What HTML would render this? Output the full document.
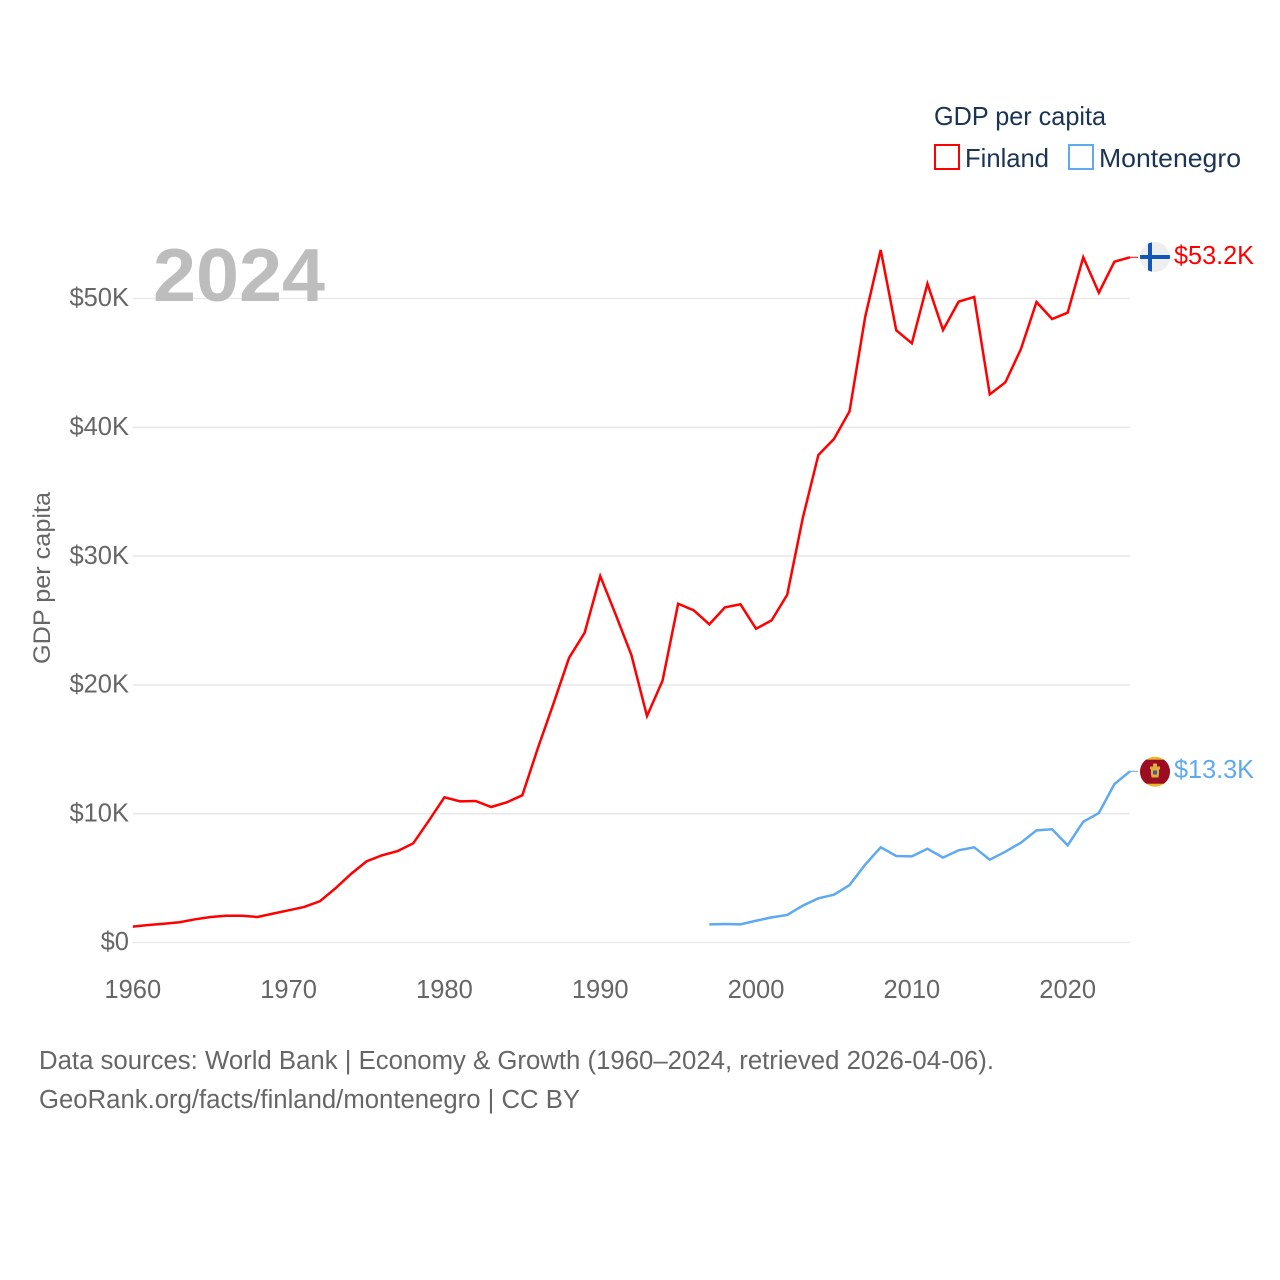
<!DOCTYPE html>
<html lang="en">
<head>
<meta charset="utf-8">
<title>GDP per capita: Finland and Montenegro</title>
<style>
html,body{margin:0;padding:0;background:#fff;}
svg{display:block;font-family:"Liberation Sans",sans-serif;}
</style>
</head>
<body>
<svg id="chart" xmlns="http://www.w3.org/2000/svg" width="1280" height="1280" viewBox="0 0 1280 1280">
  <defs>
    <clipPath id="clip-fi"><circle cx="1155" cy="257" r="15"/></clipPath>
    <clipPath id="clip-me"><circle cx="1155" cy="771.7" r="15"/></clipPath>
  </defs>
  <rect width="1280" height="1280" fill="#fff"/>
  <g id="grid"></g>
  <text x="153" y="301" font-size="75" font-weight="700" fill="#bdbdbd" textLength="172" lengthAdjust="spacingAndGlyphs">2024</text>
  <g id="y-axis"></g>
  <g id="x-axis"></g>
  <text transform="translate(50,578) rotate(-90)" text-anchor="middle" font-size="24.5" fill="#666" textLength="172" lengthAdjust="spacingAndGlyphs">GDP per capita</text>
  <g id="series"></g>

  <g clip-path="url(#clip-fi)">
    <rect x="1140" y="242" width="30" height="30" fill="#eeeeee"/>
    <rect x="1140" y="255" width="30" height="4" fill="#1257b5"/>
    <rect x="1148" y="242" width="4" height="30" fill="#1257b5"/>
  </g>
  <g clip-path="url(#clip-me)">
    <rect x="1140" y="756" width="30" height="32" fill="#e8b52e"/>
    <rect x="1140" y="759.7" width="30" height="24" fill="#9c0c22"/>
    <rect x="1153" y="763.5" width="4" height="3" fill="#e0b03a"/>
    <rect x="1150" y="766.5" width="10" height="3" fill="#e0b03a"/>
    <rect x="1151" y="769.5" width="8" height="6" fill="#e0b03a"/>
    <rect x="1153" y="770.5" width="4" height="4" fill="#3a5f96"/>
    <rect x="1151.5" y="775.5" width="7" height="2" fill="#e0b03a"/>
  </g>
  <text x="1174" y="264" font-size="25.5" fill="#ff0000" textLength="80" lengthAdjust="spacingAndGlyphs">$53.2K</text>
  <text x="1174" y="778" font-size="25.5" fill="#5ea9ef" textLength="80" lengthAdjust="spacingAndGlyphs">$13.3K</text>

  <g>
    <text x="934" y="125" font-size="26" fill="#1a3454" textLength="172" lengthAdjust="spacingAndGlyphs">GDP per capita</text>
    <g>
      <rect x="935" y="145" width="24" height="24" fill="none" stroke="#ff0000" stroke-width="2"/>
      <text x="965" y="167" font-size="26" fill="#1a3454" textLength="84" lengthAdjust="spacingAndGlyphs">Finland</text>
    </g>
    <g>
      <rect x="1069" y="145" width="24" height="24" fill="none" stroke="#5ea9ef" stroke-width="2"/>
      <text x="1099" y="167" font-size="26" fill="#1a3454" textLength="142" lengthAdjust="spacingAndGlyphs">Montenegro</text>
    </g>
  </g>

  <text x="39" y="1069" font-size="25.5" fill="#666" textLength="955" lengthAdjust="spacingAndGlyphs">Data sources: World Bank | Economy &amp; Growth (1960–2024, retrieved 2026-04-06).</text>
  <text x="39" y="1108" font-size="25.5" fill="#666" textLength="541" lengthAdjust="spacingAndGlyphs">GeoRank.org/facts/finland/montenegro | CC BY</text>
</svg>
<script>
const xTicks = [1960, 1970, 1980, 1990, 2000, 2010, 2020];
const yTicks = [0, 10, 20, 30, 40, 50];
const yTickLabels = ["$0", "$10K", "$20K", "$30K", "$40K", "$50K"];
const finlandStartYear = 1960;
const finlandValues = [1.23, 1.36, 1.46, 1.57, 1.8, 1.98, 2.08, 2.08, 1.98, 2.24, 2.5, 2.76, 3.2, 4.2, 5.32, 6.3, 6.77, 7.1, 7.7, 9.46, 11.27, 10.96, 10.99, 10.52, 10.88, 11.43, 15.1, 18.55, 22.1, 24.05, 28.45, 25.43, 22.32, 17.58, 20.33, 26.3, 25.79, 24.7, 26.02, 26.26, 24.36, 25.01, 27.0, 32.96, 37.85, 39.09, 41.24, 48.54, 53.77, 47.53, 46.52, 51.15, 47.55, 49.75, 50.12, 42.56, 43.49, 46.08, 49.73, 48.41, 48.9, 53.2, 50.45, 52.86, 53.2];
const montenegroStartYear = 1997;
const montenegroValues = [1.41, 1.44, 1.41, 1.69, 1.95, 2.14, 2.86, 3.43, 3.71, 4.46, 6.04, 7.39, 6.72, 6.69, 7.28, 6.59, 7.16, 7.39, 6.43, 7.05, 7.75, 8.71, 8.79, 7.54, 9.38, 10.05, 12.3, 13.29];

const NS = "http://www.w3.org/2000/svg";
const xScale = function (year) { return 132.8 + (year - 1960) * (1130 - 132.8) / 64; };
const yScale = function (v) { return 942.5 - v * 12.88; };

function make(tag, attrs, parent, text) {
  const el = document.createElementNS(NS, tag);
  for (const k in attrs) el.setAttribute(k, attrs[k]);
  if (text !== undefined) el.textContent = text;
  parent.appendChild(el);
  return el;
}

const grid = document.getElementById("grid");
const yAxis = document.getElementById("y-axis");
const xAxis = document.getElementById("x-axis");
const series = document.getElementById("series");

yTicks.forEach(function (v, i) {
  const line = make("line", { x1: xScale(1960), x2: xScale(2024), y1: yScale(v), y2: yScale(v), stroke: "#e9e9e9", "stroke-width": 1.6 }, grid);
  
  
  const label = make("text", { x: 129, y: yScale(v) + 7.7, "text-anchor": "end", "font-size": 25.5, fill: "#666" }, yAxis, yTickLabels[i]);
  
  
});

xTicks.forEach(function (year) {
  const label = make("text", { x: xScale(year), y: 998, "text-anchor": "middle", "font-size": 25.5, fill: "#666" }, xAxis, String(year));
  
  
});

function pointsOf(values, startYear) {
  return values.map(function (v, i) { return xScale(startYear + i).toFixed(2) + "," + yScale(v).toFixed(2); }).join(" ");
}

const finlandLine = make("polyline", { points: pointsOf(finlandValues, finlandStartYear), fill: "none", stroke: "#ff0000", "stroke-width": 2.5, "stroke-linejoin": "miter" }, series);



const montenegroLine = make("polyline", { points: pointsOf(montenegroValues, montenegroStartYear), fill: "none", stroke: "#5ea9ef", "stroke-width": 2.5, "stroke-linejoin": "miter" }, series);



const finlandLast = finlandValues[finlandValues.length - 1];
const finlandLeader = make("line", { x1: xScale(2024), x2: 1138, y1: yScale(finlandLast), y2: yScale(finlandLast), stroke: "#ff0000", "stroke-width": 1 }, series);



const montenegroLast = montenegroValues[montenegroValues.length - 1];
const montenegroLeader = make("line", { x1: xScale(2024), x2: 1138, y1: yScale(montenegroLast), y2: yScale(montenegroLast), stroke: "#5ea9ef", "stroke-width": 1 }, series);


</script>
</body>
</html>
